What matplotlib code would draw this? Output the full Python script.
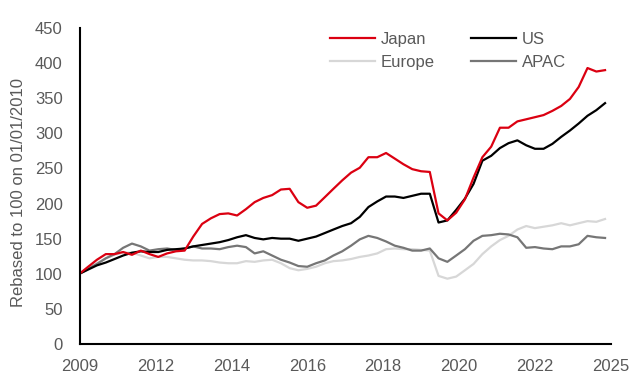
"""Japan, US, Europe and APAC equity indices, rebased to 100, quarterly readings."""

import matplotlib.pyplot as plt
import pandas as pd

plt.rcParams["font.family"] = ["Liberation Sans", "DejaVu Sans"]

# quarterly observations, Dec 2009 .. Dec 2024
DATES = pd.date_range("2009-12-01", periods=61, freq="3MS")

JAPAN = [
    100, 110, 120, 128, 128, 131, 127, 133, 128, 124,
    129, 132, 133, 153, 171, 179, 185, 186, 183, 192,
    202, 208, 212, 220, 221, 202, 194, 197, 209, 221,
    233, 244, 251, 266, 266, 272, 264, 256, 249, 246,
    245, 186, 176, 187, 206, 237, 266, 281, 308, 308,
    317, 320, 323, 326, 332, 339, 349, 366, 393, 388,
    390,
]
US = [
    100, 106, 112, 116, 121, 126, 130, 132, 131, 131,
    134, 135, 136, 139, 141, 143, 145, 148, 152, 155,
    151, 149, 151, 150, 150, 147, 150, 153, 158, 163,
    168, 172, 181, 195, 203, 210, 210, 208, 211, 214,
    214, 173, 176, 191, 207, 228, 261, 268, 279, 286,
    290, 283, 278, 278, 285, 295, 304, 314, 325, 333,
    343,
]
EUROPE = [
    100, 108, 115, 122, 127, 130, 130, 126, 122, 124,
    124, 122, 120, 119, 119, 118, 116, 115, 115, 118,
    117, 119, 120, 115, 108, 105, 107, 110, 115, 118,
    119, 121, 124, 126, 129, 135, 136, 135, 135, 134,
    133, 97, 93, 96, 105, 114, 128, 139, 148, 154,
    163, 168, 165, 167, 169, 172, 169, 172, 175, 174,
    178,
]
APAC = [
    100, 107, 114, 122, 128, 137, 143, 139, 133, 135,
    136, 134, 136, 139, 136, 136, 135, 138, 140, 138,
    129, 132, 126, 120, 116, 111, 110, 115, 119, 126,
    132, 140, 149, 154, 151, 146, 140, 137, 133, 133,
    136, 122, 117, 126, 135, 147, 154, 155, 157, 156,
    152, 137, 138, 136, 135, 139, 139, 142, 154, 152,
    151,
]

# Excel-style date axis: a label every 26 months
X_TICKS = pd.date_range("2009-12-01", "2025-02-01", freq="26MS")
X_TICK_LABELS = ["2009", "2012", "2014", "2016", "2018", "2020", "2022", "2025"]
Y_TICKS = list(range(0, 451, 50))

COLORS = {
    "Japan": "#DB0011",
    "US": "#000000",
    "Europe": "#D7D7D7",
    "APAC": "#767676",
}
TEXT = "#595959"


def main():
    fig = plt.figure(figsize=(6.39, 3.88), dpi=100)
    ax = fig.add_axes([79.5 / 639, 1 - 344 / 388, 531.5 / 639, 316 / 388])

    lines = {}
    for name, values in [("Europe", EUROPE), ("APAC", APAC), ("US", US), ("Japan", JAPAN)]:
        (lines[name],) = ax.plot(DATES, values, color=COLORS[name], lw=1.6, label=name)

    ax.set_xlim(X_TICKS[0], X_TICKS[-1])
    ax.set_ylim(0, 450)
    ax.set_xticks(X_TICKS)
    ax.set_xticklabels(X_TICK_LABELS)
    ax.set_yticks(Y_TICKS)
    ax.tick_params(length=0, labelsize=12, labelcolor=TEXT)
    ax.tick_params(axis="y", pad=12)
    ax.tick_params(axis="x", pad=11)
    for side in ("top", "right"):
        ax.spines[side].set_visible(False)
    for side in ("left", "bottom"):
        ax.spines[side].set_linewidth(1.5)
        ax.spines[side].set_color("black")
    ax.set_ylabel("Rebased to 100 on 01/01/2010", fontsize=12, color=TEXT)
    ax.yaxis.set_label_coords(-0.101, 0.48)

    order = ["Japan", "Europe", "US", "APAC"]
    leg = fig.legend(
        [lines[n] for n in order], order,
        ncol=2, frameon=False, loc="upper left",
        bbox_to_anchor=(330 / 639, 1 - 32 / 388),
        borderpad=0, borderaxespad=0, handlelength=2.7, handletextpad=0.33,
        columnspacing=2.2, labelspacing=0.5, fontsize=12,
    )
    for t in leg.get_texts():
        t.set_color(TEXT)

    fig.savefig("out.png", dpi=100)


if __name__ == "__main__":
    main()
